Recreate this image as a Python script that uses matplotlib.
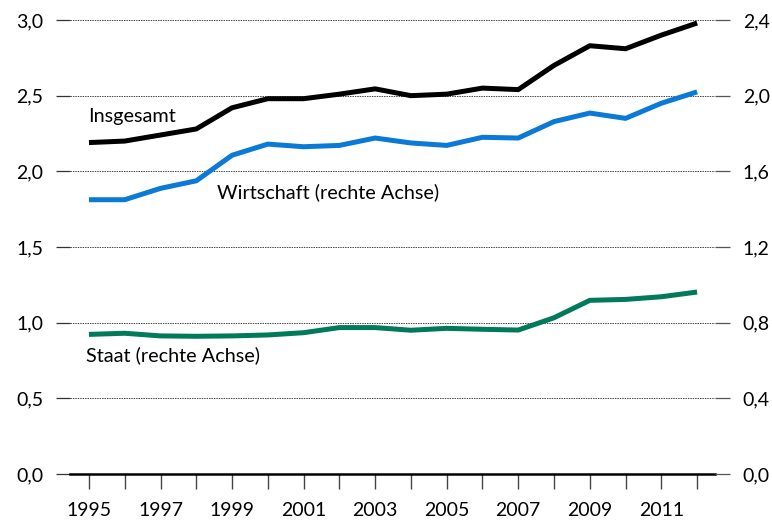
import matplotlib.pyplot as plt
from matplotlib.ticker import FuncFormatter

plt.rcParams['font.family'] = ['Lato', 'DejaVu Sans']

# Data
years = list(range(1995, 2013))
insgesamt = [2.19, 2.20, 2.24, 2.28, 2.42, 2.48, 2.48, 2.51, 2.545, 2.50,
             2.51, 2.55, 2.54, 2.70, 2.83, 2.81, 2.90, 2.98]
wirtschaft = [1.45, 1.45, 1.51, 1.55, 1.685, 1.744, 1.73, 1.737, 1.776, 1.75,
              1.737, 1.78, 1.776, 1.863, 1.908, 1.88, 1.96, 2.02]
staat = [0.738, 0.744, 0.73, 0.728, 0.73, 0.735, 0.747, 0.774, 0.774, 0.76,
         0.77, 0.765, 0.761, 0.826, 0.918, 0.923, 0.937, 0.962]

left_ticks = [0.0, 0.5, 1.0, 1.5, 2.0, 2.5, 3.0]
right_ticks = [0.0, 0.4, 0.8, 1.2, 1.6, 2.0, 2.4]
year_labels = [str(y) if (y - 1995) % 2 == 0 else '' for y in years]

black = '#000000'
blue = '#0a7ad6'
green = '#007a5a'

fig = plt.figure(figsize=(7.72, 5.23), dpi=100)
ax = fig.add_axes([70 / 772, 49 / 523, 645 / 772, 454 / 523])
ax2 = ax.twinx()

comma = FuncFormatter(lambda v, p: f"{v:.1f}".replace('.', ','))

# grid on left axis
ax.set_ylim(0, 3.0)
ax.set_yticks(left_ticks)
ax.yaxis.set_major_formatter(comma)
ax.grid(axis='y', linestyle=(0, (1.5, 1)), color='#444444', linewidth=0.7)
ax.set_axisbelow(True)

ax2.set_ylim(0, 2.4)
ax2.set_yticks(right_ticks)
ax2.yaxis.set_major_formatter(comma)

ax.set_xlim(1994.47, 2012.5)
ax.set_xticks(years)
ax.set_xticklabels(year_labels)

for a in (ax, ax2):
    for s in ['top', 'left', 'right', 'bottom']:
        a.spines[s].set_visible(False)
ax.spines['bottom'].set_visible(True)
ax.spines['bottom'].set_linewidth(1.8)
ax.spines['bottom'].set_color('black')

ax.tick_params(axis='y', direction='out', length=10, width=0.9, color='#333333',
               labelsize=14, pad=9)
ax2.tick_params(axis='y', direction='out', length=11, width=0.9, color='#555555',
                labelsize=14, pad=9)
ax.tick_params(axis='x', direction='out', length=11, width=1.0, color='#444444',
               labelsize=14, pad=9)

ax.plot(years, insgesamt, color=black, linewidth=3.6, solid_capstyle='butt', zorder=5)
ax2.plot(years, wirtschaft, color=blue, linewidth=3.6, solid_capstyle='butt', zorder=5)
ax2.plot(years, staat, color=green, linewidth=3.6, solid_capstyle='butt', zorder=5)

ax.text(1994.97, 2.36, 'Insgesamt', fontsize=14.3, ha='left', va='center')
ax.text(1998.58, 1.86, 'Wirtschaft (rechte Achse)', fontsize=14.3, ha='left', va='center')
ax.text(1994.92, 0.785, 'Staat (rechte Achse)', fontsize=14.3, ha='left', va='center')

fig.savefig('out.png', dpi=100)
